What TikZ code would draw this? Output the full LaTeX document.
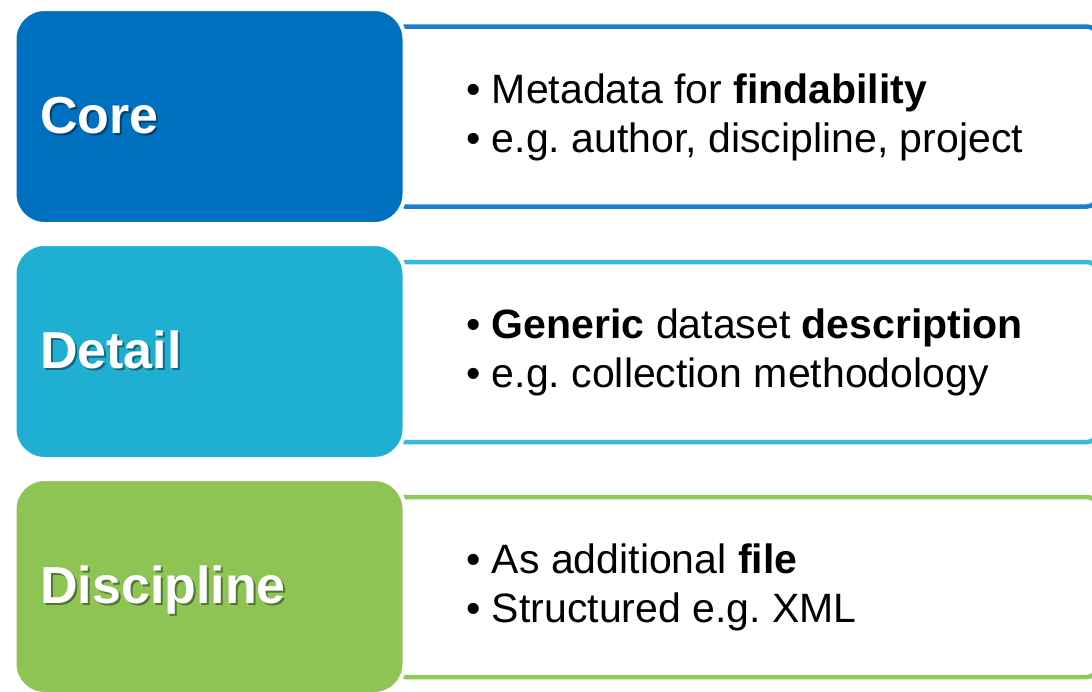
\documentclass[tikz,border=0pt]{standalone}
\usepackage{fontspec}
\setmainfont{Liberation Sans}
\frenchspacing
\usetikzlibrary{%
  positioning,% wg. " of "
  calc%
}
\definecolor{corecol}{RGB}{0,112,192}
\definecolor{detailcol}{RGB}{31,175,211}
\definecolor{disccol}{RGB}{142,196,84}
\definecolor{coreline}{RGB}{28,127,203}
\definecolor{detailline}{RGB}{58,185,216}
\definecolor{discline}{RGB}{143,201,90}
\tikzset{
  leftbox/.style={rounded corners=30pt, draw=white, line width=4pt, minimum width=390pt, minimum height=215pt, inner sep=0pt},
  rightbox/.style={rounded corners=10pt, fill=white, line width=4.5pt, minimum width=702pt, minimum height=180pt, inner sep=0pt},
  boxtitle/.style={anchor=base west, inner sep=0pt, text=white, font=\fontsize{52}{60}\selectfont\bfseries},
  titleshadow/.style={boxtitle, text=black, opacity=.4},
  itemtext/.style={anchor=base west, inner sep=0pt, font=\fontsize{41}{49}\selectfont}
}

\begin{document}
\begin{tikzpicture}[x=1pt, y=-1pt]
\useasboundingbox (0,0) rectangle (1092,691);
\node [rightbox, draw=coreline] (coreinfo) at (746,116.5) {};
\node [rightbox, draw=detailline] (detailinfo) at (746,352) {};
\node [rightbox, draw=discline] (discinfo) at (746,587) {};
\node [leftbox, fill=corecol] (core) at (209.5,116.5) {};
\node [leftbox, fill=detailcol] (detail) at (209.5,351.5) {};
\node [leftbox, fill=disccol] (disc) at (209.5,586.5) {};
\node [titleshadow] (coreshade) at (42,135) {Core};
\node [boxtitle] (coretitle) at (40,133) {Core};
\node [titleshadow] (detailshade) at (42,370) {Detail};
\node [boxtitle] (detailtitle) at (40,368) {Detail};
\node [titleshadow] (discshade) at (42,605) {Discipline};
\node [boxtitle] (disctitle) at (40,603) {Discipline};
\node [itemtext] (core1) at (466,103) {\textbullet{} Metadata for \textbf{findability}};
\node [itemtext] (core2) at (466,152) {\textbullet{} e.g. author, discipline, project};
\node [itemtext] (detail1) at (466,338.5) {\textbullet{} \textbf{Generic} dataset \textbf{description}};
\node [itemtext] (detail2) at (466,387.5) {\textbullet{} e.g. collection methodology};
\node [itemtext] (disc1) at (466,573.5) {\textbullet{} As additional \textbf{file}};
\node [itemtext] (disc2) at (466,622.5) {\textbullet{} Structured e.g. XML};
\end{tikzpicture}
\end{document}
